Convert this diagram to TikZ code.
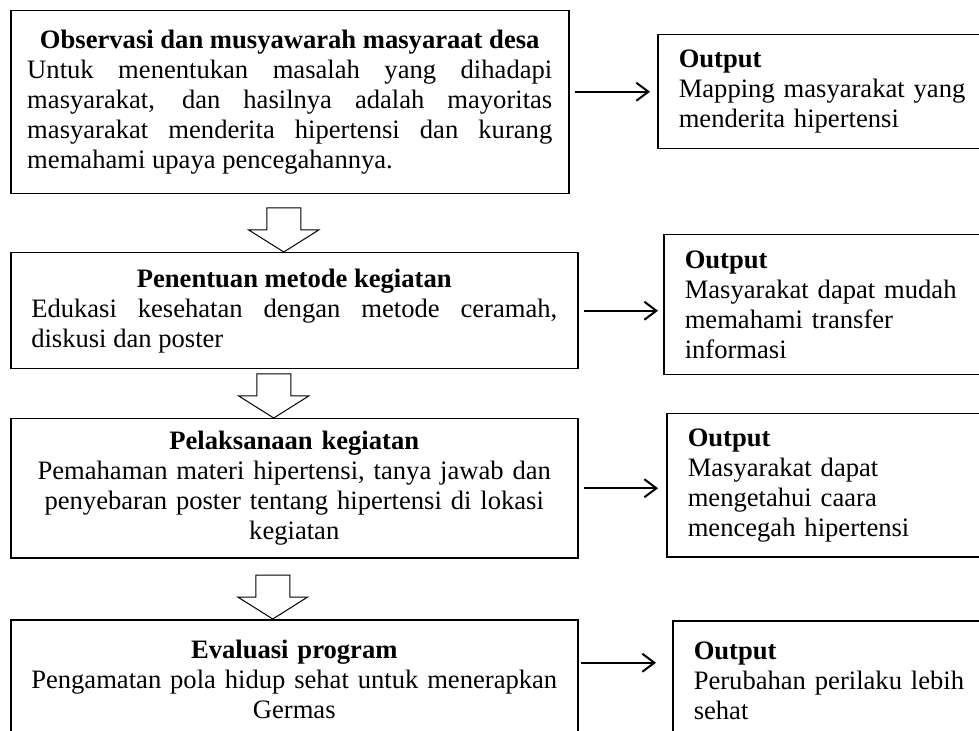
\documentclass[tikz,border=0pt]{standalone}
\usepackage{fontspec}
\setmainfont{Liberation Serif}
\usetikzlibrary{arrows.meta}

\begin{document}
\begin{tikzpicture}[x=0.5pt,y=-0.5pt]
\tikzset{box/.style = {shape=rectangle,draw,line width=0.75pt,anchor=north west,inner ysep=0pt,font=\fontsize{13.3}{15}\selectfont}}
\tikzset{stage/.style = {box,text width=263pt,inner xsep=10.25pt}}
\tikzset{outbox/.style = {box,text width=150pt,inner xsep=10.5pt,align=left}}
\tikzset{edge/.style = {-{Straight Barb[length=6pt,width=9pt]},line width=1pt}}
\tikzset{hollow/.style = {draw,line width=0.5pt,fill=white}}
\useasboundingbox (0,0) rectangle (979,731);
\clip (0,0) rectangle (979,731);
\fill[white] (0,0) rectangle (979,731);
% stages
\node[box,text width=262.5pt,inner xsep=8.25pt,minimum height=91.5pt,align=justify] (b1) at (10,10)
  {{\centering\textbf{Observasi dan musyawarah masyaraat desa}\par}
   Untuk menentukan masalah yang dihadapi\linebreak masyarakat, dan hasilnya adalah mayoritas\linebreak
   masyarakat menderita hipertensi dan kurang\linebreak memahami upaya pencegahannya.\par};
\node[stage,minimum height=58pt,align=justify] (b2) at (10,252)
  {{\centering\textbf{Penentuan metode kegiatan}\par}
   Edukasi kesehatan dengan metode ceramah,\linebreak diskusi dan poster\par};
\node[stage,minimum height=69.5pt,align=center] (b3) at (10,418)
  {\textbf{Pelaksanaan kegiatan}\\ Pemahaman materi hipertensi, tanya jawab dan\\
   penyebaran poster tentang hipertensi di lokasi\\ kegiatan};
\node[stage,minimum height=60pt,align=center] (b4) at (10,619)
  {\textbf{Evaluasi program}\\ Pengamatan pola hidup sehat untuk menerapkan\\ Germas};
% outputs
\node[outbox,minimum height=57pt] (o1) at (657,34)
  {\textbf{Output}\\ Mapping masyarakat yang\\ menderita hipertensi};
\node[outbox,minimum height=70pt] (o2) at (663,234)
  {\textbf{Output}\\ Masyarakat dapat mudah\\ memahami transfer\\ informasi};
\node[outbox,minimum height=71.5pt] (o3) at (666,413)
  {\textbf{Output}\\ Masyarakat dapat\\ mengetahui caara\\ mencegah hipertensi};
\node[outbox,minimum height=60pt] (o4) at (672,620)
  {\textbf{Output}\\ Perubahan perilaku lebih\\ sehat};
% edges
\draw[edge,shorten <=2.5pt,shorten >=3.5pt] (b1.east |- o1.west) -- (o1.west);
\draw[edge,shorten <=2.5pt,shorten >=2.5pt] (b2.east) -- (b2.east -| o2.west);
\draw[edge,shorten <=2.5pt,shorten >=4pt] (b3.east) -- (b3.east -| o3.west);
\coordinate (a4) at ([yshift=8.5pt]b4.east);
\draw[edge,shorten <=1pt,shorten >=8pt] (a4) -- (a4 -| o4.west);
% block arrows
\foreach \n/\dx in {2/-5.25,3/-10.25,4/-10.75}
  \draw[hollow] ([xshift=\dx pt]b\n.north) -- ++(-35,-22) -- ++(18,0) -- ++(0,-22)
    -- ++(34,0) -- ++(0,22) -- ++(18,0) -- cycle;
\end{tikzpicture}
\end{document}
